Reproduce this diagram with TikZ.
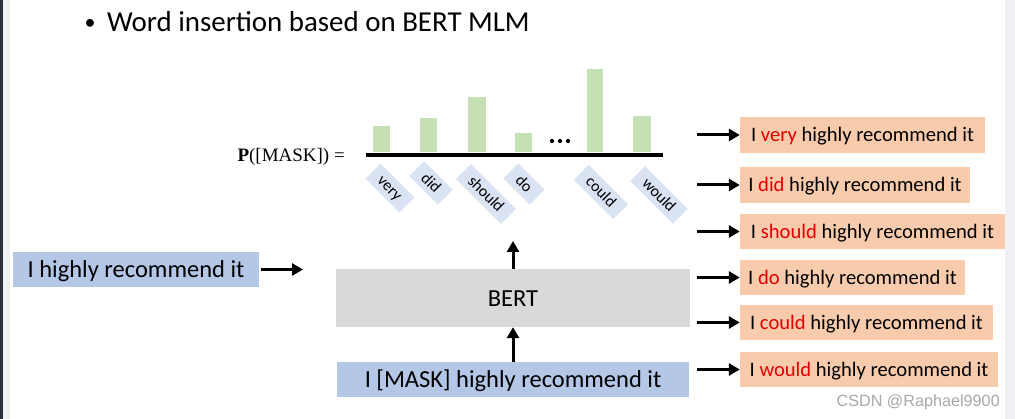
\documentclass[tikz,border=0pt]{standalone}
\usepackage{fontspec}
\setmainfont{Carlito}
\newfontfamily\pfont{Liberation Serif}
\newfontfamily\wmfont{Liberation Sans}
\usetikzlibrary{arrows.meta}
\definecolor{boxblue}{HTML}{B4C7E7}
\definecolor{lightblue}{HTML}{DAE3F3}
\definecolor{boxorange}{HTML}{F8CBAD}
\definecolor{boxgray}{HTML}{D9D9D9}
\definecolor{bargreen}{HTML}{C5E0B4}
\definecolor{redword}{HTML}{E60000}
\definecolor{darkstrip}{HTML}{2B3038}
\definecolor{lightstrip}{HTML}{EEF0F3}
\definecolor{wmgray}{HTML}{A8A8A8}
\newcommand\myfs[1]{\fontsize{#1}{#1}\selectfont}
\newcommand\rw[1]{\textcolor{redword}{#1}}
\begin{document}
\begin{tikzpicture}[x=1pt,y=-1pt,
  every node/.style={inner sep=0pt},
  lbox/.style={fill=boxblue, font=\myfs{24.5}, text height=19pt, text depth=2pt, minimum height=35},
  gbox/.style={fill=boxgray, font=\myfs{24.5}, text height=19pt, text depth=1pt},
  obox/.style={fill=boxorange, font=\myfs{20.6}, text height=16pt, text depth=2pt, minimum height=35.5},
  wbox/.style={fill=lightblue, font=\myfs{16}, rotate=-45, minimum height=21, inner xsep=10pt, text height=12pt, text depth=2pt},
  bar/.style={fill=bargreen},
  arr/.style={line width=3pt, -{Triangle[length=11pt,width=12pt]}},
]
\useasboundingbox (0,0) rectangle (1015,419);
\fill[white] (0,0) rectangle (1015,419);
\fill[darkstrip] (0,0) rectangle (3,419);
\fill[lightstrip] (3,0) rectangle (10,419);
\fill[lightstrip] (1005,0) rectangle (1015,419);

% title
\node[anchor=center, font=\myfs{22}] (bullet) at (90,24) {•};
\node[anchor=base west, font=\myfs{28.9}] (title) at (107,32) {Word insertion based on BERT MLM};

% probability
\node[anchor=east, font=\pfont\myfs{19}] (plabel) at (345,157) {\textbf{P}([MASK]) =};
\fill[bar] (373,126) rectangle (390,152);
\fill[bar] (420,118) rectangle (437,152);
\fill[bar] (468,97) rectangle (486,152);
\fill[bar] (515,133) rectangle (532,152);
\fill[bar] (587,69) rectangle (603,152);
\fill[bar] (633,116) rectangle (651,152);
\fill (552,141) circle (2.1);
\fill (560,141) circle (2.1);
\fill (568,141) circle (2.1);
\draw[line width=4pt] (366,155) -- (663,155);

\node[wbox] (wvery) at (390,188) {very};
\node[wbox] (wdid) at (431,183) {did};
\node[wbox] (wshould) at (486,194) {should};
\node[wbox] (wdo) at (524,184) {do};
\node[wbox] (wcould) at (601,192) {could};
\node[wbox] (wwould) at (659,195) {would};

% left input
\node[lbox, minimum width=246] (src) at (136,269.5) {I highly recommend it};
\coordinate (srcend) at (303,269.5);
\draw[arr, shorten <=2pt] (src.east) -- (srcend);

% BERT
\node[gbox, minimum width=354, minimum height=58] (bert) at (513,298) {BERT};
\node[lbox, minimum width=352] (mask) at (513,379.5) {I [MASK] highly recommend it};
\draw[arr] (mask.north) -- (bert.south);
\coordinate (top) at (513,241);
\draw[arr] (bert.north) -- (top);

% outputs
\node[obox, minimum width=245] (r1) at (862.5,135) {I \rw{very} highly recommend it};
\node[obox, minimum width=230] (r2) at (855,185) {I \rw{did} highly recommend it};
\node[obox, minimum width=265] (r3) at (872.5,231.5) {I \rw{should} highly recommend it};
\node[obox, minimum width=225] (r4) at (852.5,277.5) {I \rw{do} highly recommend it};
\node[obox, minimum width=253] (r5) at (866.5,322.5) {I \rw{could} highly recommend it};
\node[obox, minimum width=258] (r6) at (869,369.5) {I \rw{would} highly recommend it};
\foreach \r in {r1,r2,r3,r4,r5,r6}{
  \coordinate (\r s) at (697,0 |- \r.west);
  \draw[arr] (\r s) -- (\r.west);
}

% watermark
\node[anchor=base east, font=\wmfont\myfs{16.2}, text=wmgray] (wm) at (1000,407) {CSDN @Raphael9900};
\end{tikzpicture}
\end{document}
